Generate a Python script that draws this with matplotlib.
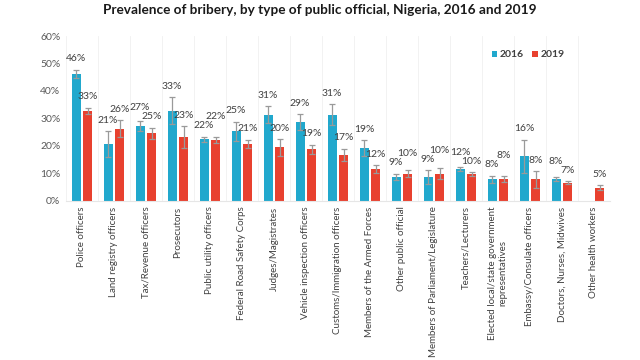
import numpy as np
import matplotlib
matplotlib.use("Agg")
import matplotlib.pyplot as plt

plt.rcParams['font.family'] = ['Lato', 'DejaVu Sans']

categories = [
    "Police officers", "Land registry officers", "Tax/Revenue officers", "Prosecutors",
    "Public utility officers", "Federal Road Safety Corps", "Judges/Magistrates",
    "Vehicle inspection officers", "Customs/Immigration officers", "Members of the Armed Forces",
    "Other public official", "Members of Parliament/Legislature", "Teachers/Lecturers",
    "Elected local/state government\nrepresentatives", "Embassy/Consulate officers",
    "Doctors, Nurses, Midwives", "Other health workers",
]
vals_2016 = [46.3, 20.7, 27.2, 32.8, 22.4, 25.3, 31.4, 28.7, 31.4, 19.2, 8.7, 8.6, 11.6, 7.8, 16.2, 8.0, np.nan]
err_2016 = [1.5, 4.6, 1.9, 4.9, 1.0, 3.5, 3.0, 2.9, 3.8, 2.9, 1.2, 2.6, 0.8, 1.4, 6.1, 0.7, np.nan]
vals_2019 = [32.8, 26.3, 24.6, 23.2, 22.2, 20.8, 19.5, 18.8, 16.8, 11.6, 9.9, 9.9, 9.7, 8.0, 7.8, 6.6, 4.8]
err_2019 = [1.1, 3.0, 2.1, 4.1, 1.0, 1.5, 3.0, 1.7, 2.2, 1.4, 1.3, 2.1, 0.7, 1.2, 3.0, 0.6, 0.8]
series_names = ["2016", "2019"]
yticks = [0, 10, 20, 30, 40, 50, 60]

blue = "#21a8cd"
red = "#e8412f"
txt = "#404040"

fig = plt.figure(figsize=(6.4, 3.6), dpi=100)
ax = fig.add_axes([0.103, 0.442, 0.850, 0.458])

x = np.arange(len(categories))
w = 0.28
off = 0.18
ax.bar(x - off, vals_2016, w, color=blue, label=series_names[0], zorder=2)
ax.bar(x + off, vals_2019, w, color=red, label=series_names[1], zorder=2)
ax.errorbar(x - off, vals_2016, yerr=err_2016, fmt='none', ecolor='#9a9a9a', elinewidth=0.9, capsize=2, capthick=0.9, zorder=3)
ax.errorbar(x + off, vals_2019, yerr=err_2019, fmt='none', ecolor='#9a9a9a', elinewidth=0.9, capsize=2, capthick=0.9, zorder=3)

# label anchors: above the error-bar caps, separated vertically when a pair would collide
sep = 3.3
for i in range(len(categories)):
    v1, e1, v2, e2 = vals_2016[i], err_2016[i], vals_2019[i], err_2019[i]
    c1 = v1 + e1 if not np.isnan(v1) else np.nan
    c2 = v2 + e2
    y1, y2 = c1, c2
    if not np.isnan(c1) and abs(c1 - c2) < sep:
        if c1 > c2 + 0.5:
            y1 = c2 + sep
        else:
            y2 = max(c1, c2) + (sep if c2 <= c1 + 0.5 else 0)
            if y2 - c1 < sep:
                y2 = c1 + sep
    if not np.isnan(v1):
        ax.annotate(f"{int(v1 + 0.5)}%", (x[i] - off, y1), xytext=(0, 4.5), textcoords='offset points',
                    ha='center', va='bottom', fontsize=7.5, color=txt)
    ax.annotate(f"{int(v2 + 0.5)}%", (x[i] + off, y2), xytext=(0, 4.5), textcoords='offset points',
                ha='center', va='bottom', fontsize=7.5, color=txt)

ax.set_xlim(-0.5, len(categories) - 0.5)
ax.set_ylim(0, 60)
ax.set_yticks(yticks)
ax.set_yticklabels([f"{t}%" for t in yticks], fontsize=7.5, color="#595959")
ax.set_xticks(x)
ax.set_xticklabels(categories, rotation=90, fontsize=7, color=txt, va='top', ha='center', multialignment='center')
ax.tick_params(axis='both', length=0, pad=4)
for xb in np.arange(-0.5, len(categories), 1.0):
    ax.axvline(xb, color='#f0f0f0', lw=0.6, zorder=0)
for s in ax.spines.values():
    s.set_visible(False)
ax.spines['bottom'].set_visible(True)
ax.spines['bottom'].set_color('#e6e6e6')

leg = ax.legend(loc='center', bbox_to_anchor=(0.85, 0.885), ncol=2, frameon=False,
                handlelength=0.55, handleheight=0.55, handletextpad=0.25, columnspacing=0.8,
                prop={'weight': 'bold', 'size': 7.5})
for t in leg.get_texts():
    t.set_color(txt)

fig.suptitle("Prevalence of bribery, by type of public official, Nigeria, 2016 and 2019",
             x=0.5, y=0.99, fontsize=9.8, fontweight='bold', color='#1a1a1a', va='top')

fig.savefig("out.png", dpi=100, facecolor='white')
